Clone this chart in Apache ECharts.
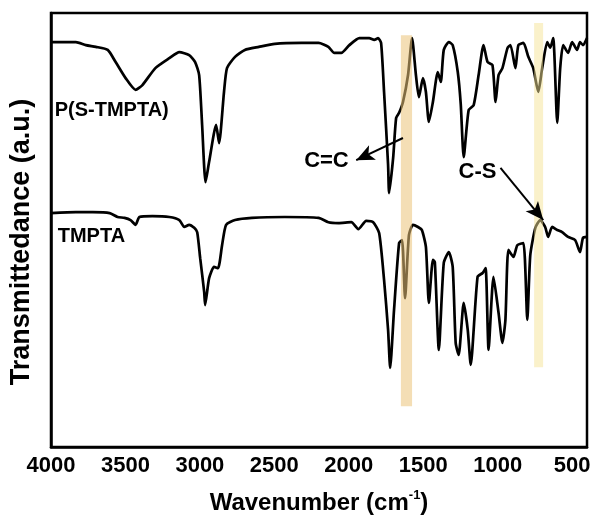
<!DOCTYPE html>
<html>
<head>
<meta charset="utf-8">
<script src="https://cdn.jsdelivr.net/npm/echarts@6/dist/echarts.min.js"></script>
<style>
  html, body { margin: 0; padding: 0; background: #fff; }
  #chart { width: 595px; height: 526px; }
</style>
</head>
<body>
<div id="chart"></div>
<script>
// FTIR spectra: [wavenumber (cm-1), transmittance (a.u., offset for stacking)]
const polySpectrum = [
  [4000,93.3],[3833,93.3],[3766,92.6],[3699,92.2],[3619,91.5],[3566,88.7],[3499,85.0],
  [3432,82.3],[3386,83.4],[3299,87.3],[3205,89.6],[3138,91.0],[3072,90.3],[3032,88.7],
  [3005,85.7],[2985,74.2],[2962,61.0],[2938,65.7],[2891,74.2],[2871,70.0],[2838,81.8],
  [2818,87.3],[2764,89.9],[2698,91.5],[2604,92.2],[2497,92.9],[2317,93.1],[2203,93.1],
  [2137,92.2],[2097,90.8],[2050,90.8],[1996,92.6],[1929,94.2],[1863,94.2],[1829,93.8],
  [1803,94.2],[1783,93.1],[1763,81.8],[1736,65.0],[1729,58.5],[1702,66.6],[1682,75.8],
  [1662,77.0],[1636,79.5],[1602,85.7],[1575,94.2],[1549,85.7],[1529,80.6],[1502,85.0],
  [1482,81.8],[1462,74.9],[1435,79.5],[1402,86.4],[1382,84.1],[1362,91.5],[1328,93.3],
  [1302,92.6],[1268,86.4],[1248,79.0],[1228,66.8],[1195,77.6],[1161,78.8],[1128,85.7],
  [1095,92.6],[1068,88.7],[1035,88.0],[1014,79.5],[994,85.7],[968,87.3],[934,91.9],
  [914,92.6],[881,87.3],[861,92.6],[827,93.1],[794,89.9],[761,87.3],[727,81.8],
  [701,87.3],[667,93.3],[647,92.0],[627,94.2],[600,74.7],[580,87.3],[560,92.6],
  [527,90.8],[500,93.3],[467,91.5],[447,93.3],[427,92.6],[400,94.2]
];

const monomerSpectrum = [
  [4000,53.9],[3833,54.1],[3719,54.1],[3606,53.9],[3553,53.0],[3506,52.8],[3466,52.3],
  [3432,51.2],[3406,53.0],[3319,53.2],[3205,53.0],[3138,52.3],[3105,50.7],[3072,51.2],
  [3038,50.5],[3018,49.5],[2998,43.5],[2971,35.7],[2965,32.7],[2938,38.9],[2905,41.5],
  [2878,41.2],[2851,46.5],[2824,51.2],[2764,52.3],[2651,52.8],[2430,53.0],[2203,52.8],
  [2137,51.8],[2070,51.6],[1983,51.8],[1936,50.2],[1883,52.1],[1836,51.8],[1796,49.3],
  [1763,38.5],[1736,27.0],[1722,18.2],[1696,31.6],[1662,47.0],[1642,47.7],[1622,34.3],
  [1596,48.8],[1569,51.2],[1535,50.7],[1509,50.0],[1482,46.1],[1462,33.2],[1435,43.1],
  [1422,42.6],[1395,22.4],[1362,42.4],[1328,44.9],[1302,41.5],[1282,24.0],[1262,21.2],
  [1228,33.2],[1201,27.0],[1181,18.9],[1135,39.2],[1101,40.1],[1081,41.2],[1061,22.4],
  [1028,39.2],[994,30.9],[968,24.0],[948,29.3],[928,45.4],[894,43.8],[868,46.5],
  [827,47.0],[801,29.3],[781,44.2],[747,50.5],[714,52.3],[681,50.7],[661,48.4],
  [634,50.7],[600,50.0],[567,49.5],[527,48.4],[480,47.7],[447,44.9],[427,48.2],[400,48.4]
];

const xTicks = [4000, 3500, 3000, 2500, 2000, 1500, 1000, 500];

// Highlighted bands: [high wavenumber, low wavenumber, top, bottom]
const ccBand = [1650, 1575, 94.9, 9.4];
const csBand = [755, 695, 97.7, 18.4];

// Curve labels and annotations: [wavenumber, transmittance]
const polyLabelAt = [3975, 77.6];
const monomerLabelAt = [3955, 48.4];
const ccLabelAt = [2150, 65.9];
const csLabelAt = [1135, 63.4];
const ccArrow = [[1636, 71.2], [1950, 66.1]];
const csArrow = [[981, 64.3], [694, 52.3]];

const FONT = '"Liberation Sans", Arial, sans-serif';

const chart = echarts.init(document.getElementById('chart'), null, { renderer: 'canvas' });

const textPoint = (coord, text, align, size) => ({
  coord: coord,
  symbolSize: 0,
  label: {
    show: true, formatter: text, position: 'inside', align: align,
    fontFamily: FONT, fontWeight: 'bold', fontSize: size, color: '#000'
  }
});

chart.setOption({
  animation: false,
  backgroundColor: '#fff',
  grid: {
    left: 48, right: 8, top: 13, bottom: 79,
    show: true, borderColor: '#000', borderWidth: 2.5, backgroundColor: 'transparent'
  },
  xAxis: {
    type: 'value', inverse: true, min: 400, max: 4000,
    splitLine: { show: false },
    axisLine: { show: true, lineStyle: { color: '#000', width: 2.5 } },
    axisTick: { show: false },
    axisLabel: {
      customValues: xTicks, margin: 8,
      formatter: (v) => String(v),
      fontFamily: FONT, fontWeight: 'bold', fontSize: 22, color: '#000'
    },
    name: 'Wavenumber (cm{sup|-1})',
    nameLocation: 'middle', nameGap: 42,
    nameTextStyle: {
      fontFamily: FONT, fontWeight: 'bold', fontSize: 24, color: '#000', lineHeight: 28,
      rich: { sup: { fontFamily: FONT, fontWeight: 'bold', fontSize: 13, color: '#000', verticalAlign: 'top', lineHeight: 28, padding: [0, 0, 12, 0] } }
    }
  },
  yAxis: {
    type: 'value', min: 0, max: 100,
    splitLine: { show: false },
    axisLine: { show: true, lineStyle: { color: '#000', width: 2.5 } },
    axisTick: { show: false },
    axisLabel: { show: false },
    name: 'Transmittedance (a.u.)',
    nameLocation: 'middle', nameGap: 16,
    nameTextStyle: { fontFamily: FONT, fontWeight: 'bold', fontSize: 27, color: '#000', padding: [0, 24, 0, 0] }
  },
  series: [
    {
      name: 'P(S-TMPTA)', type: 'line', data: polySpectrum, showSymbol: false,
      smooth: 0.2, z: 2,
      lineStyle: { color: '#000', width: 2.7 }
    },
    {
      name: 'TMPTA', type: 'line', data: monomerSpectrum, showSymbol: false,
      smooth: 0.2, z: 2,
      lineStyle: { color: '#000', width: 2.7 }
    },
    {
      name: 'annotations', type: 'line', data: [], z: 4,
      markArea: {
        z: 4, silent: true,
        data: [
          [{ xAxis: ccBand[0], yAxis: ccBand[2], itemStyle: { color: 'rgba(235,195,120,0.55)' } },
           { xAxis: ccBand[1], yAxis: ccBand[3] }],
          [{ xAxis: csBand[0], yAxis: csBand[2], itemStyle: { color: 'rgba(245,228,150,0.5)' } },
           { xAxis: csBand[1], yAxis: csBand[3] }]
        ]
      },
      markLine: {
        z: 5, silent: true, symbol: ['none', 'arrow'], symbolSize: [12, 18],
        label: { show: false },
        lineStyle: { color: '#000', width: 2, type: 'solid' },
        data: [
          [{ coord: ccArrow[0] }, { coord: ccArrow[1] }],
          [{ coord: csArrow[0] }, { coord: csArrow[1] }]
        ]
      },
      markPoint: {
        z: 5, silent: true, symbol: 'circle',
        data: [
          textPoint(polyLabelAt, 'P(S-TMPTA)', 'left', 20),
          textPoint(monomerLabelAt, 'TMPTA', 'left', 20),
          textPoint(ccLabelAt, 'C=C', 'center', 22),
          textPoint(csLabelAt, 'C-S', 'center', 22)
        ]
      }
    }
  ]
});
</script>
</body>
</html>
